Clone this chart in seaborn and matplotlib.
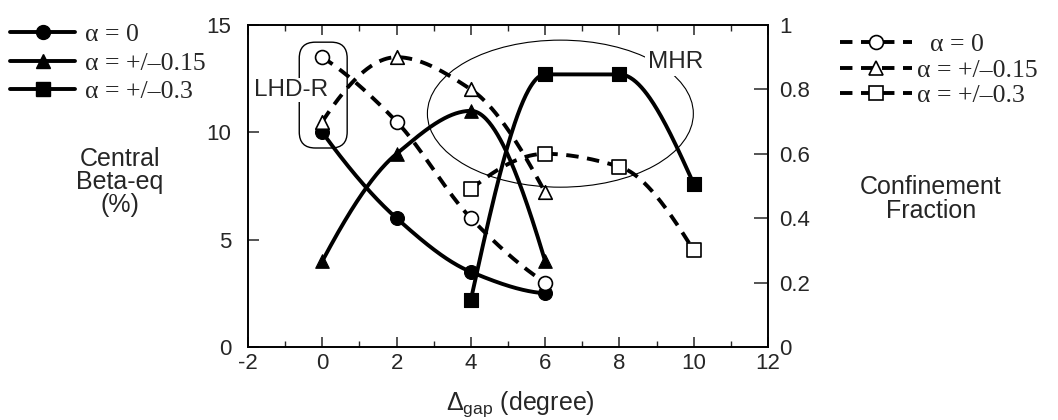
import numpy as np
import pandas as pd
import matplotlib
matplotlib.use("Agg")
import matplotlib.pyplot as plt
import seaborn as sns
from matplotlib.lines import Line2D
from matplotlib.patches import Ellipse, FancyBboxPatch
from matplotlib.ticker import MultipleLocator

# gap angle (degree) of each series
gap_a0 = [0, 2, 4, 6]
gap_a15 = [0, 2, 4, 6]
gap_a30 = [4, 6, 8, 10]

# central beta-eq (%)  -- left axis, solid lines
beta_a0 = [10.0, 6.0, 3.5, 2.5]
beta_a15 = [4.0, 9.0, 11.0, 4.0]
beta_a30 = [2.2, 12.7, 12.7, 7.6]

# confinement fraction -- right axis, dashed lines
conf_a0 = [0.90, 0.70, 0.40, 0.20]
conf_a15 = [0.70, 0.90, 0.80, 0.48]
conf_a30 = [0.49, 0.60, 0.56, 0.30]

series_labels = ["α = 0", "α = +/–0.15", "α = +/–0.3"]
x_ticks = [-2, 0, 2, 4, 6, 8, 10, 12]
beta_ticks = [0, 5, 10, 15]
conf_ticks = [0, 0.2, 0.4, 0.6, 0.8, 1.0]
conf_tick_labels = ["0", "0.2", "0.4", "0.6", "0.8", "1"]


def pchip_curve(x, y, n=240):
    """Shape-preserving cubic Hermite curve through the given points."""
    x = np.asarray(x, float)
    y = np.asarray(y, float)
    h = np.diff(x)
    d = np.diff(y) / h
    m = np.zeros_like(y)
    for k in range(1, len(x) - 1):
        if d[k - 1] * d[k] > 0:
            w1 = 2 * h[k] + h[k - 1]
            w2 = h[k] + 2 * h[k - 1]
            m[k] = (w1 + w2) / (w1 / d[k - 1] + w2 / d[k])

    def end_slope(h0, h1, d0, d1):
        s = ((2 * h0 + h1) * d0 - h0 * d1) / (h0 + h1)
        if np.sign(s) != np.sign(d0):
            s = 0.0
        elif np.sign(d0) != np.sign(d1) and abs(s) > abs(3 * d0):
            s = 3 * d0
        return s

    m[0] = end_slope(h[0], h[1], d[0], d[1])
    m[-1] = end_slope(h[-1], h[-2], d[-1], d[-2])
    xs = np.linspace(x[0], x[-1], n)
    i = np.clip(np.searchsorted(x, xs, side="right") - 1, 0, len(x) - 2)
    t = (xs - x[i]) / h[i]
    h00 = 2 * t**3 - 3 * t**2 + 1
    h10 = t**3 - 2 * t**2 + t
    h01 = -2 * t**3 + 3 * t**2
    h11 = t**3 - t**2
    ys = h00 * y[i] + h10 * h[i] * m[i] + h01 * y[i + 1] + h11 * h[i] * m[i + 1]
    return xs, ys


sns.set_style("ticks")
plt.rcParams["font.family"] = ["Liberation Sans", "DejaVu Sans"]
plt.rcParams["mathtext.fontset"] = "custom"
plt.rcParams["mathtext.rm"] = "Liberation Sans"
plt.rcParams["mathtext.it"] = "Liberation Sans:italic"
plt.rcParams["mathtext.default"] = "regular"

W, H, DPI = 1058, 420, 100
fig = plt.figure(figsize=(W / DPI, H / DPI), dpi=DPI)
L, R, T, B = 248 / W, 768 / W, 1 - 25 / H, 1 - 347 / H
ax = fig.add_axes([L, B, R - L, T - B])
ax2 = ax.twinx()

LW = 2.8
DASH = (0, (3.2, 2.2))
MS = 10
S_AREA = MS**2
TICK_FS = 16
TITLE_FS = 18
NOTE_FS = 17.5

beta_series = [(gap_a0, beta_a0, "o"), (gap_a15, beta_a15, "^"), (gap_a30, beta_a30, "s")]
conf_series = [(gap_a0, conf_a0, "o"), (gap_a15, conf_a15, "^"), (gap_a30, conf_a30, "s")]

# solid curves: central beta-eq
for gx, gy, mk in beta_series:
    xs, ys = pchip_curve(gx, gy)
    sns.lineplot(x=xs, y=ys, ax=ax, color="black", lw=LW, sort=False,
                 estimator=None, zorder=3)
    sns.scatterplot(x=gx, y=gy, ax=ax, marker=mk, s=S_AREA * (0.95 if mk == "^" else 1.0),
                    color="black", edgecolor="black", linewidth=0.8, zorder=4)

# dashed curves: confinement fraction
for gx, gy, mk in conf_series:
    xs, ys = pchip_curve(gx, gy)
    sns.lineplot(x=xs, y=ys, ax=ax2, color="black", lw=LW, sort=False,
                 estimator=None, linestyle=DASH, zorder=3)
    sns.scatterplot(x=gx, y=gy, ax=ax2, marker=mk, s=S_AREA * (0.95 if mk == "^" else 1.0),
                    color="white", edgecolor="black", linewidth=1.2, zorder=4)

# axes ranges and ticks
ax.set_xlim(-2, 12)
ax.set_ylim(0, 15)
ax2.set_ylim(0, 1)
ax.set_xticks(x_ticks)
ax.set_xticklabels([str(v) for v in x_ticks])
ax.xaxis.set_minor_locator(MultipleLocator(1))
ax.set_yticks(beta_ticks)
ax.set_yticklabels([str(v) for v in beta_ticks])
ax2.set_yticks(conf_ticks)
ax2.set_yticklabels(conf_tick_labels)

ax.tick_params(axis="x", which="major", direction="in", top=True, bottom=True,
               length=7, width=1.1, labelsize=TICK_FS, pad=4)
ax.tick_params(axis="x", which="minor", direction="in", top=True, bottom=True,
               length=4, width=1.0)
ax.tick_params(axis="y", which="major", direction="in", left=True, right=False,
               length=8, width=1.1, labelsize=TICK_FS, pad=12)
ax2.tick_params(axis="y", which="major", direction="in", left=False, right=True,
                length=10, width=1.1, labelsize=TICK_FS, pad=8)
ax.set_xlabel("")
ax.set_ylabel("")
ax2.set_ylabel("")
for a in (ax, ax2):
    for sp in a.spines.values():
        sp.set_visible(True)
        sp.set_linewidth(1.2)
        sp.set_color("black")

# regions of interest
px_x = (R - L) * W / 14.0
px_y = (T - B) * H / 15.0
lhd_box = FancyBboxPatch((-0.62, 9.27), 1.29, 4.93,
                         boxstyle="round,pad=0,rounding_size=%f" % (16 / px_x),
                         mutation_aspect=px_x / px_y, transform=ax.transData,
                         fill=False, edgecolor="black", lw=1.0, zorder=1)
ax.add_patch(lhd_box)
ax.text(-0.85, 11.97, "LHD-R", fontsize=NOTE_FS, ha="center", va="center", zorder=2,
        bbox=dict(boxstyle="square,pad=0.05", fc="white", ec="none"))

mhr = Ellipse((6.41, 10.87), width=7.16, height=6.85, fill=False,
              edgecolor="black", lw=0.8, zorder=1)
ax.add_patch(mhr)
ax.text(9.5, 13.27, "MHR", fontsize=NOTE_FS, ha="center", va="center", zorder=2,
        bbox=dict(boxstyle="square,pad=0.1", fc="white", ec="none"))

# axis titles
fig.text(120 / W, 1 - 182 / H, "Central\nBeta-eq\n(%)", fontsize=TITLE_FS,
         ha="center", va="center", linespacing=0.96)
fig.text(931 / W, 1 - 199 / H, "Confinement\nFraction", fontsize=TITLE_FS,
         ha="center", va="center", linespacing=0.96)
fig.text(520 / W, 1 - 404 / H, r"$\Delta_{gap}$ (degree)", fontsize=TITLE_FS,
         ha="center", va="center")

# legends
legend_font = dict(family="Liberation Serif", size=18.5)
solid_handles = [Line2D([], [], color="black", lw=LW, marker=mk, ms=MS,
                        mfc="black", mec="black")
                 for mk in ["o", "^", "s"]]
dashed_handles = [Line2D([], [], color="black", lw=LW, linestyle=DASH, marker=mk,
                         ms=MS, mfc="white", mec="black", mew=1.2)
                  for mk in ["o", "^", "s"]]
fig.legend(solid_handles, series_labels, loc="upper left",
           bbox_to_anchor=(10 / W, 1 - 23 / H), frameon=False, prop=legend_font,
           handlelength=2.53, handletextpad=0.39, labelspacing=0.22,
           borderpad=0, borderaxespad=0)
fig.legend(dashed_handles, ["  " + series_labels[0]] + series_labels[1:],
           loc="upper left", bbox_to_anchor=(840 / W, 1 - 33 / H), frameon=False,
           prop=legend_font, handlelength=2.8, handletextpad=0.2,
           labelspacing=0.1, borderpad=0, borderaxespad=0)

fig.savefig("out.png", dpi=DPI)
